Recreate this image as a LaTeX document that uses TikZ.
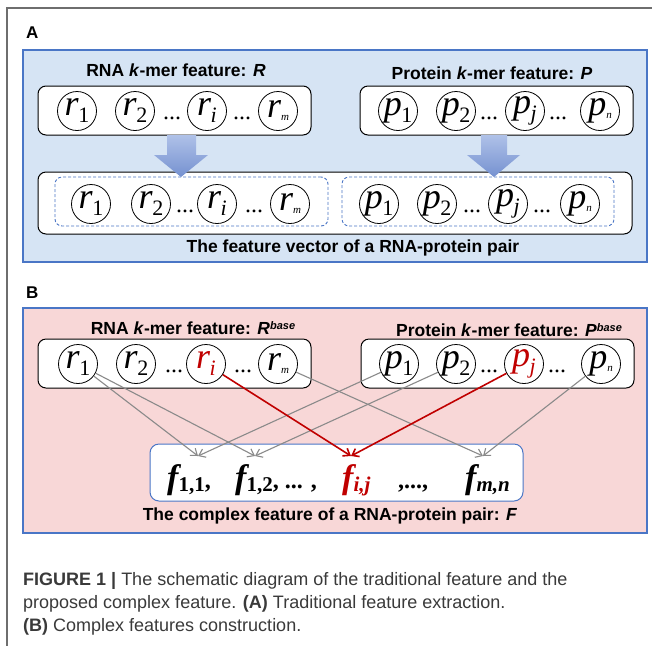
\documentclass[tikz,border=0pt]{standalone}
\usepackage{fontspec}
\setmainfont{Liberation Serif}
\newfontfamily\lsans{Liberation Sans}
\usetikzlibrary{arrows.meta,calc}
\definecolor{panelblue}{HTML}{D6E4F4}
\definecolor{panelred}{HTML}{F8D7D7}
\definecolor{edgeblue}{HTML}{4A76C6}
\definecolor{arrowtop}{HTML}{AFC1E8}
\definecolor{arrowbot}{HTML}{7591D0}
\definecolor{linegray}{HTML}{8A8A8A}
\definecolor{darkred}{HTML}{C00000}
\definecolor{captext}{HTML}{3A3A3A}
\definecolor{framegray}{HTML}{6E6E6E}
\newcommand\ssub[2]{{\fontsize{36}{36}\selectfont\itshape #1}\kern-0.5pt\raisebox{-7pt}{\fontsize{22}{22}\selectfont #2}}
\newcommand\tsub[2]{{\fontsize{36}{36}\selectfont\itshape #1}\raisebox{-3pt}{\fontsize{11}{11}\selectfont\itshape #2}}
\newcommand\fsub[1]{{\fontsize{34}{34}\selectfont\bfseries\itshape f}\raisebox{-3pt}{\fontsize{21}{21}\selectfont\bfseries #1}}
\tikzset{
  vnode/.style={circle,draw,line width=0.8pt,minimum size=39pt,inner sep=0pt,fill=white},
  rowbox/.style={draw,rounded corners=8pt,line width=1pt,fill=white,inner sep=0pt},
  dashbox/.style={draw=edgeblue,dashed,dash pattern=on 3pt off 2pt,rounded corners=7pt,line width=0.9pt,inner sep=0pt},
  dotnode/.style={inner sep=0pt,anchor=base,font=\fontsize{24}{24}\selectfont},
  lbl/.style={font=\lsans\bfseries\fontsize{17.5}{17.5}\selectfont,inner sep=0pt},
  panel/.style={draw=edgeblue,line width=1.1pt,inner sep=0pt},
  garrow/.style={linegray,line width=1.1pt,-{Straight Barb[length=6pt,width=9pt]}},
  rarrow/.style={darkred,line width=1.6pt,-{Straight Barb[length=6pt,width=9pt]}},
  blockarrow/.style={top color=arrowtop,bottom color=arrowbot,draw=none},
  fnode/.style={inner sep=0pt,anchor=base west,font=\fontsize{24}{24}\selectfont\bfseries},
  captxt/.style={inner sep=0pt,anchor=base west,text=captext,font=\lsans\fontsize{18}{18}\selectfont},
  plabel/.style={inner sep=0pt,anchor=base west,font=\lsans\bfseries\fontsize{17}{17}\selectfont}
}
\begin{document}
\begin{tikzpicture}[x=1pt,y=-1pt]
\useasboundingbox (0,0) rectangle (652,646);
\fill[white] (0,0) rectangle (652,646);
\draw[framegray,line width=1.3pt] (652,8) -- (7,8) -- (7,646);

% ---------- Panel A ----------
\node[plabel] (labA) at (26,38) {A};
\node[panel,fill=panelblue,minimum width=624pt,minimum height=212pt] (panelA) at (335,156) {};
\node[lbl] (tRA) at (176,70) {RNA \textit{k}-mer feature: \textit{R}};
\node[lbl] (tPA) at (492,73) {Protein \textit{k}-mer feature: \textit{P}};
\node[rowbox,minimum width=273pt,minimum height=49pt] (boxRA) at (174.5,110.5) {};
\node[rowbox,minimum width=273pt,minimum height=49pt] (boxPA) at (496.5,110.5) {};
\node[vnode] (ar1) at (77,111) {\ssub{r}{1}};
\node[vnode] (ar2) at (135,111) {\ssub{r}{2}};
\node[vnode] (ari) at (207,111) {\ssub{r}{\itshape i}};
\node[vnode] (arm) at (278,111) {\tsub{r}{m}};
\node[dotnode] (ad1) at (172,119) {...};
\node[dotnode] (ad2) at (242,119) {...};
\node[vnode] (ap1) at (398,111) {\ssub{p}{1}};
\node[vnode] (ap2) at (456,111) {\ssub{p}{2}};
\node[vnode] (apj) at (525,111) {\ssub{p}{\itshape j}};
\node[vnode] (apn) at (600,111) {\tsub{p}{n}};
\node[dotnode] (ad3) at (489,119) {...};
\node[dotnode] (ad4) at (558,119) {...};

\node[rowbox,minimum width=594pt,minimum height=62pt] (boxVA) at (335,203) {};
\node[dashbox,minimum width=273pt,minimum height=49pt] (dashR) at (191.5,201.5) {};
\node[dashbox,minimum width=272pt,minimum height=49pt] (dashP) at (478,201.5) {};
\node[vnode] (br1) at (91,204) {\ssub{r}{1}};
\node[vnode] (br2) at (151,204) {\ssub{r}{2}};
\node[vnode] (bri) at (217,204) {\ssub{r}{\itshape i}};
\node[vnode] (brm) at (290,204) {\tsub{r}{m}};
\node[dotnode] (bd1) at (185,212) {...};
\node[dotnode] (bd2) at (254,212) {...};
\node[vnode] (bp1) at (379,204) {\ssub{p}{1}};
\node[vnode] (bp2) at (437,204) {\ssub{p}{2}};
\node[vnode] (bpj) at (508,204) {\ssub{p}{\itshape j}};
\node[vnode] (bpn) at (580,204) {\tsub{p}{n}};
\node[dotnode] (bd3) at (472,212) {...};
\node[dotnode] (bd4) at (542,212) {...};
\node[lbl] (tVA) at (353,248) {The feature vector of a RNA-protein pair};

\shade[blockarrow] (167,135) -- (196,135) -- (196,155) -- (208,155) -- (181,177) -- (154,155) -- (167,155) -- cycle;
\shade[blockarrow] (481,135) -- (507,135) -- (507,155) -- (520,155) -- (494,177) -- (467,155) -- (481,155) -- cycle;

% ---------- Panel B ----------
\node[plabel] (labB) at (26,298) {B};
\node[panel,fill=panelred,minimum width=624pt,minimum height=225pt] (panelB) at (335,420.5) {};
\node[lbl] (tRB) at (193,328) {RNA \textit{k}-mer feature: \textit{R}\raisebox{5pt}{\fontsize{11}{11}\selectfont\textit{base}}};
\node[lbl] (tPB) at (509,330) {Protein \textit{k}-mer feature: \textit{P}\raisebox{5pt}{\fontsize{11}{11}\selectfont\textit{base}}};
\node[rowbox,minimum width=273pt,minimum height=49pt] (boxRB) at (174.5,363.5) {};
\node[rowbox,minimum width=273pt,minimum height=49pt] (boxPB) at (497.5,363.5) {};
\node[vnode] (cr1) at (78,364) {\ssub{r}{1}};
\node[vnode] (cr2) at (136,364) {\ssub{r}{2}};
\node[vnode,text=darkred] (cri) at (206,364) {\ssub{r}{\itshape i}};
\node[vnode] (crm) at (278,364) {\tsub{r}{m}};
\node[dotnode] (cd1) at (174,372) {...};
\node[dotnode] (cd2) at (243,372) {...};
\node[vnode] (cp1) at (399,364) {\ssub{p}{1}};
\node[vnode] (cp2) at (456,364) {\ssub{p}{2}};
\node[vnode,text=darkred] (cpj) at (524,364) {\ssub{p}{\itshape j}};
\node[vnode] (cpn) at (601,364) {\tsub{p}{n}};
\node[dotnode] (cd3) at (489,372) {...};
\node[dotnode] (cd4) at (557,372) {...};

\node[draw=edgeblue,line width=1pt,fill=white,rounded corners=9pt,minimum width=373pt,minimum height=57pt,inner sep=0pt] (boxF) at (336.5,472.5) {};
\coordinate (t11) at (198,456);
\coordinate (t12) at (255,456);
\coordinate (tij) at (351,456);
\coordinate (tmn) at (483,456);
\node[fnode] (f11) at (167,488) {\fsub{1,1},};
\node[fnode] (f12) at (235,488) {\fsub{1,2}, ... ,};
\node[fnode,text=darkred] (fij) at (342,488) {\fsub{\itshape i,j}};
\node[fnode] (fdots) at (398,488) {,...,};
\node[fnode] (fmn) at (465,488) {\fsub{\itshape m,n}};
\node[lbl] (tFB) at (330,516) {The complex feature of a RNA-protein pair: \textit{F}};

\draw[garrow] (cr1) -- (t11);
\draw[garrow] (cr1) -- (t12);
\draw[garrow] (cp1) -- (t11);
\draw[garrow] (cp2) -- (t12);
\draw[garrow] (crm) -- (tmn);
\draw[garrow] (cpn) -- (tmn);
\draw[rarrow] (cri) -- (tij);
\draw[rarrow] (cpj) -- (tij);

% ---------- Caption ----------
\node[captxt] (cap1) at (23,585) {\textbf{FIGURE 1 |} The schematic diagram of the traditional feature and the};
\node[captxt] (cap2) at (23,608) {proposed complex feature. \textbf{(A)} Traditional feature extraction.};
\node[captxt] (cap3) at (23,631) {\textbf{(B)} Complex features construction.};
\end{tikzpicture}
\end{document}
